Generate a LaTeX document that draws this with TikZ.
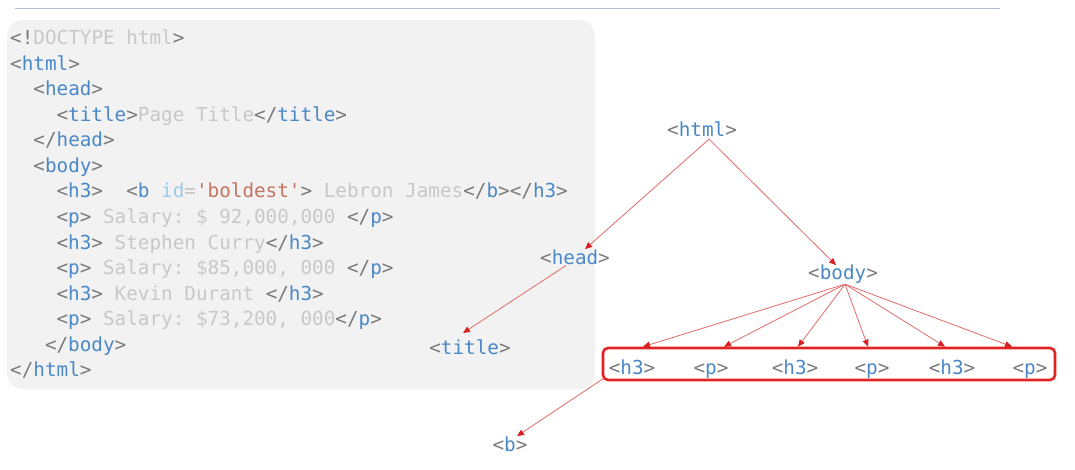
\documentclass[tikz,border=0pt]{standalone}
\usepackage{fontspec}
\setmonofont{DejaVu Sans Mono}
\usetikzlibrary{arrows.meta,calc}
\definecolor{brk}{HTML}{7A7A7A}
\definecolor{tagc}{HTML}{4A88C8}
\definecolor{txt}{HTML}{C8C8C8}
\definecolor{idc}{HTML}{9ECBEA}
\definecolor{eqc}{HTML}{C4C4C4}
\definecolor{strc}{HTML}{C27560}
\definecolor{panel}{HTML}{F2F2F2}
\definecolor{lnk}{HTML}{E36A6A}
\definecolor{tipc}{HTML}{D82020}
\definecolor{boxc}{HTML}{E02424}
\definecolor{topl}{HTML}{B4BFD8}
\newcommand\tgo[1]{\textcolor{brk}{<}\textcolor{tagc}{#1}\textcolor{brk}{>}}
\newcommand\tgc[1]{\textcolor{brk}{</}\textcolor{tagc}{#1}\textcolor{brk}{>}}
\newcommand\ct[1]{\textcolor{txt}{#1}}
\tikzset{
  code/.style={anchor=base west,inner sep=0pt,font=\ttfamily\fontsize{19.3}{24}\selectfont},
  tagnode/.style={anchor=base,inner sep=1pt,font=\ttfamily\fontsize{19.3}{24}\selectfont},
  link/.style={draw=lnk,line width=0.8pt,-{Triangle[length=7pt,width=6pt,color=tipc]}},
}
\begin{document}
\begin{tikzpicture}[x=1pt,y=1pt]
\useasboundingbox (0,0) rectangle (1075,-470);
\draw[topl,line width=1pt] (15,-9) -- (1000,-9);
\fill[panel,rounded corners=16pt] (7,-20) rectangle (595,-389);
% code lines (baselines)
\node[code] (l0) at (10,-45) {\textcolor{brk}{<!}\ct{DOCTYPE~html}\textcolor{brk}{>}};
\node[code] (l1) at (10,-70.5) {\tgo{html}};
\node[code] (l2) at (33.2,-96) {\tgo{head}};
\node[code] (l3) at (56.4,-121.5) {\tgo{title}\ct{Page~Title}\tgc{title}};
\node[code] (l4) at (33.2,-147) {\tgc{head}};
\node[code] (l5) at (33.2,-172.5) {\tgo{body}};
\node[code] (l6) at (56.4,-198) {\tgo{h3}~~\textcolor{brk}{<}\textcolor{tagc}{b}~\textcolor{idc}{id}\textcolor{eqc}{=}\textcolor{strc}{\char39 boldest\char39}\textcolor{brk}{>}\ct{~Lebron~James}\tgc{b}\tgc{h3}};
\node[code] (l7) at (56.4,-223.5) {\tgo{p}\ct{~Salary:~\$~92,000,000~}\tgc{p}};
\node[code] (l8) at (56.4,-249) {\tgo{h3}\ct{~Stephen~Curry}\tgc{h3}};
\node[code] (l9) at (56.4,-274.5) {\tgo{p}\ct{~Salary:~\$85,000,~000~}\tgc{p}};
\node[code] (l10) at (56.4,-300) {\tgo{h3}\ct{~Kevin~Durant~}\tgc{h3}};
\node[code] (l11) at (56.4,-325.5) {\tgo{p}\ct{~Salary:~\$73,200,~000}\tgc{p}};
\node[code] (l12) at (44.8,-351) {\tgc{body}};
\node[code] (l13) at (10,-376.5) {\tgc{html}};
% tree (baselines)
\node[tagnode] (html) at (702,-137) {\tgo{html}};
\node[tagnode] (head) at (575,-264) {\tgo{head}};
\node[tagnode] (body) at (843,-279) {\tgo{body}};
\node[tagnode] (title) at (470,-354) {\tgo{title}};
\node[tagnode] (b) at (510,-451) {\tgo{b}};
\node[draw=boxc,line width=2.6pt,rounded corners=5pt,minimum width=452pt,minimum height=32pt,inner sep=0pt] (box) at (829,-364) {};
\node[tagnode] (c1) at (632,-374) {\tgo{h3}};
\node[tagnode] (c2) at (711,-374) {\tgo{p}};
\node[tagnode] (c3) at (795,-374) {\tgo{h3}};
\node[tagnode] (c4) at (872,-374) {\tgo{p}};
\node[tagnode] (c5) at (952,-374) {\tgo{h3}};
\node[tagnode] (c6) at (1030,-374) {\tgo{p}};
\coordinate (hs) at ($(html.south)+(7,-1)$);
\coordinate (bs) at ($(body.south)+(2,0)$);
\draw[link] (hs) -- ([xshift=10pt,yshift=-1pt]head.north);
\draw[link] (hs) -- ([xshift=-7pt,yshift=-2pt]body.north);
\draw[link] ([xshift=-9pt]head.south) -- ([xshift=-7pt,yshift=5pt]title.north);
\foreach \c/\dx in {c1/11,c2/13,c3/3,c4/-4,c5/-7,c6/-18}{
  \draw[link] (bs) -- ([xshift=\dx pt]\c.north |- box.north);
}
\draw[link] ([xshift=2pt,yshift=3pt]box.south west) -- ([xshift=7pt,yshift=-1pt]b.north);
\end{tikzpicture}
\end{document}
